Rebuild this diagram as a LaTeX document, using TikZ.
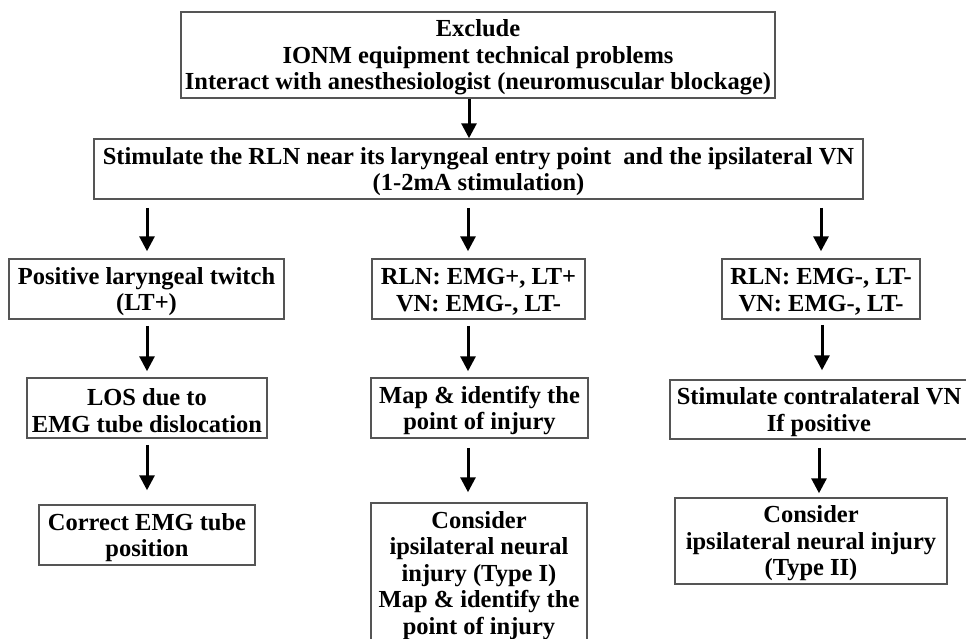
\documentclass[tikz,border=0pt]{standalone}
\usepackage{fontspec}
\setmainfont{Liberation Serif}
\usetikzlibrary{arrows.meta}
\definecolor{frame}{HTML}{555555}
\newcommand{\topstrut}{\rule{0pt}{22pt}}
\tikzset{
  box/.style={draw=frame, line width=1.5pt, fill=white, align=center, inner sep=2pt,
    font=\fontsize{24.5}{26.5}\selectfont\bfseries},
  arr/.style={line width=3pt, -{Triangle[width=15pt,length=15pt]}}
}
\begin{document}
\begin{tikzpicture}[x=1pt,y=-1pt]
\useasboundingbox (0,0) rectangle (966,638);
\clip (0,0) rectangle (966,638);
\fill[white] (0,0) rectangle (966,638);
\node[box, minimum width=594pt, minimum height=86pt] (top) at (478,55)
  {\topstrut Exclude\\IONM equipment technical problems\\Interact with anesthesiologist (neuromuscular blockage)};
\node[box, minimum width=769pt, minimum height=60pt] (stim) at (478.5,169)
  {\topstrut Stimulate the RLN near its laryngeal entry point\ \ and the ipsilateral VN\\(1-2mA stimulation)};
\node[box, minimum width=275pt, minimum height=60pt] (pos) at (146.5,289)
  {\topstrut Positive laryngeal twitch\\(LT+)};
\node[box, minimum width=240pt, minimum height=60pt] (los) at (147,408)
  {\topstrut LOS due to\\EMG tube dislocation};
\node[box, minimum width=216pt, minimum height=60pt] (cor) at (147,535)
  {\topstrut Correct EMG tube\\position};
\node[box, minimum width=213pt, minimum height=60pt] (rlnp) at (478.5,289)
  {\topstrut RLN: EMG+, LT+\\VN: EMG-, LT-};
\node[box, minimum width=217pt, minimum height=60pt] (map) at (479.5,408)
  {\topstrut Map \& identify the\\point of injury};
\node[box, minimum width=216pt, minimum height=140pt] (con1) at (479,573)
  {\topstrut Consider\\ipsilateral neural\\injury (Type I)\\Map \& identify the\\point of injury};
\node[box, minimum width=198pt, minimum height=60pt] (rlnm) at (821,289)
  {\topstrut RLN: EMG-, LT-\\VN: EMG-, LT-};
\node[box, minimum width=298pt, minimum height=59pt] (contra) at (819,409.5)
  {\topstrut Stimulate contralateral VN\\If positive};
\node[box, minimum width=272pt, minimum height=86pt] (con2) at (811,541)
  {\topstrut Consider\\ipsilateral neural injury\\(Type II)};
\draw[arr] (top.south -| 469,0) -- (stim.north -| 469,0);
\draw[arr, shorten <=8pt, shorten >=7pt] (stim.south -| 147,0) -- (pos.north -| 147,0);
\draw[arr, shorten <=8pt, shorten >=7pt] (stim.south -| 468,0) -- (rlnp.north -| 468,0);
\draw[arr, shorten <=8pt, shorten >=7pt] (stim.south -| 821,0) -- (rlnm.north -| 821,0);
\draw[arr, shorten <=6pt, shorten >=6pt] (pos.south -| 147,0) -- (los.north -| 147,0);
\draw[arr, shorten <=6pt, shorten >=6pt] (rlnp.south -| 468,0) -- (map.north -| 468,0);
\draw[arr, shorten <=5pt, shorten >=9pt] (rlnm.south -| 822,0) -- (contra.north -| 822,0);
\draw[arr, shorten <=6pt, shorten >=14pt] (los.south -| 147,0) -- (cor.north -| 147,0);
\draw[arr, shorten <=9pt, shorten >=10pt] (map.south -| 468,0) -- (con1.north -| 468,0);
\draw[arr, shorten <=8pt, shorten >=4pt] (contra.south -| 819,0) -- (con2.north -| 819,0);
\end{tikzpicture}
\end{document}
